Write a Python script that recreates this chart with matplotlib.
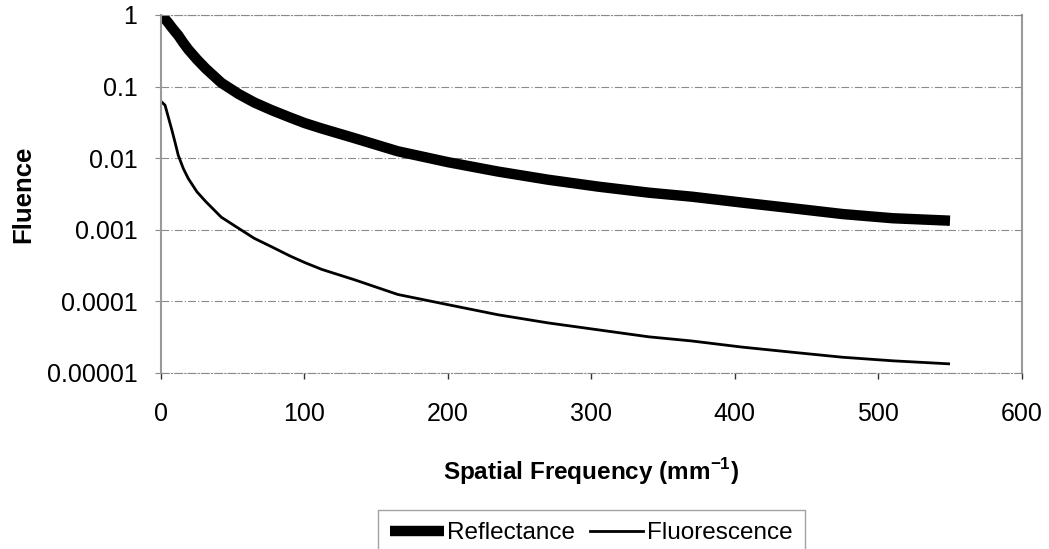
import matplotlib.pyplot as plt
from matplotlib.lines import Line2D

plt.rcParams['font.family'] = ['Liberation Sans', 'DejaVu Sans']
plt.rcParams['mathtext.fontset'] = 'custom'
plt.rcParams['mathtext.rm'] = 'Liberation Sans'
plt.rcParams['mathtext.bf'] = 'Liberation Sans:bold'

# spatial frequency (1/mm) and fluence for both channels
freq = [0, 2.8, 5, 7.5, 10, 12, 15.5, 19, 25, 31, 42, 54, 65, 77, 90, 100,
        112, 135, 165, 200, 235, 270, 305, 340, 370, 405, 440, 475, 510, 550]
reflectance = [1.0, 0.88, 0.78, 0.67, 0.58, 0.52, 0.41, 0.33, 0.24, 0.18,
               0.113, 0.079, 0.060, 0.047, 0.037, 0.031, 0.026, 0.019,
               0.0125, 0.0088, 0.0065, 0.0050, 0.0040, 0.0033, 0.0029,
               0.0024, 0.0020, 0.00166, 0.00145, 0.00134]
fluorescence = [0.062, 0.055, 0.038, 0.025, 0.016, 0.011, 0.0072, 0.0052,
                0.0034, 0.0025, 0.0015, 0.00105, 0.00076, 0.00058, 0.00043,
                0.00035, 0.00028, 0.0002, 0.000125, 0.00009, 0.000065,
                0.00005, 0.00004, 0.000032, 0.000028, 0.000023, 0.0000195,
                0.0000166, 0.0000148, 0.0000134]

yticks = [1, 0.1, 0.01, 0.001, 0.0001, 0.00001]
ytick_labels = ['1', '0.1', '0.01', '0.001', '0.0001', '0.00001']
xticks = [0, 100, 200, 300, 400, 500, 600]

fig = plt.figure(figsize=(10.49, 5.49), dpi=100)
ax = fig.add_axes([0.1535, 0.3206, 0.8205, 0.6521])

ax.plot(freq, reflectance, color='black', lw=7.5, solid_capstyle='butt',
        solid_joinstyle='round', label='Reflectance')
ax.plot(freq, fluorescence, color='black', lw=2.0, solid_capstyle='butt',
        solid_joinstyle='round', label='Fluorescence')

ax.set_yscale('log')
ax.set_xlim(0, 600)
ax.set_ylim(0.00001, 1)
ax.set_yticks(yticks)
ax.set_yticklabels(ytick_labels)
ax.minorticks_off()
ax.set_xticks(xticks)

grid_style = (0, (7, 2, 1, 2))
ax.grid(axis='y', color='#8a8a8a', lw=0.8, linestyle=grid_style)
for side in ['left', 'right']:
    ax.spines[side].set_color('#9a9a9a')
    ax.spines[side].set_linewidth(1.5)
for side in ['top', 'bottom']:
    ax.spines[side].set_color('#8a8a8a')
    ax.spines[side].set_linewidth(0.8)
    ax.spines[side].set_linestyle(grid_style)

ax.tick_params(axis='x', direction='out', length=4, width=1, color='#333333',
               labelsize=18, pad=17)
ax.tick_params(axis='y', direction='out', length=4, width=0.8, color='#8a8a8a',
               labelsize=18, pad=13)

ax.set_xlabel(r'Spatial Frequency (mm$^{\mathbf{-1}}$)', fontsize=17.5,
              fontweight='bold')
ax.xaxis.set_label_coords(0.5, -0.232)
ax.set_ylabel('Fluence', fontsize=18.5, fontweight='bold')
ax.yaxis.set_label_coords(-0.146, 0.5)

handles = [Line2D([], [], color='black', lw=7.5, solid_capstyle='butt'),
           Line2D([], [], color='black', lw=2.0)]
leg = fig.legend(handles, ['Reflectance', 'Fluorescence'], ncol=2,
                 loc='upper left', bbox_to_anchor=(378 / 1049, 1 - 510 / 549),
                 fontsize=17.5, frameon=True, fancybox=False, borderpad=0.5,
                 handlelength=2.2, handletextpad=0.15, columnspacing=0.6,
                 borderaxespad=0)
leg.get_frame().set_edgecolor('#8a8a8a')
leg.get_frame().set_linewidth(1.0)

fig.savefig('out.png', dpi=100)
